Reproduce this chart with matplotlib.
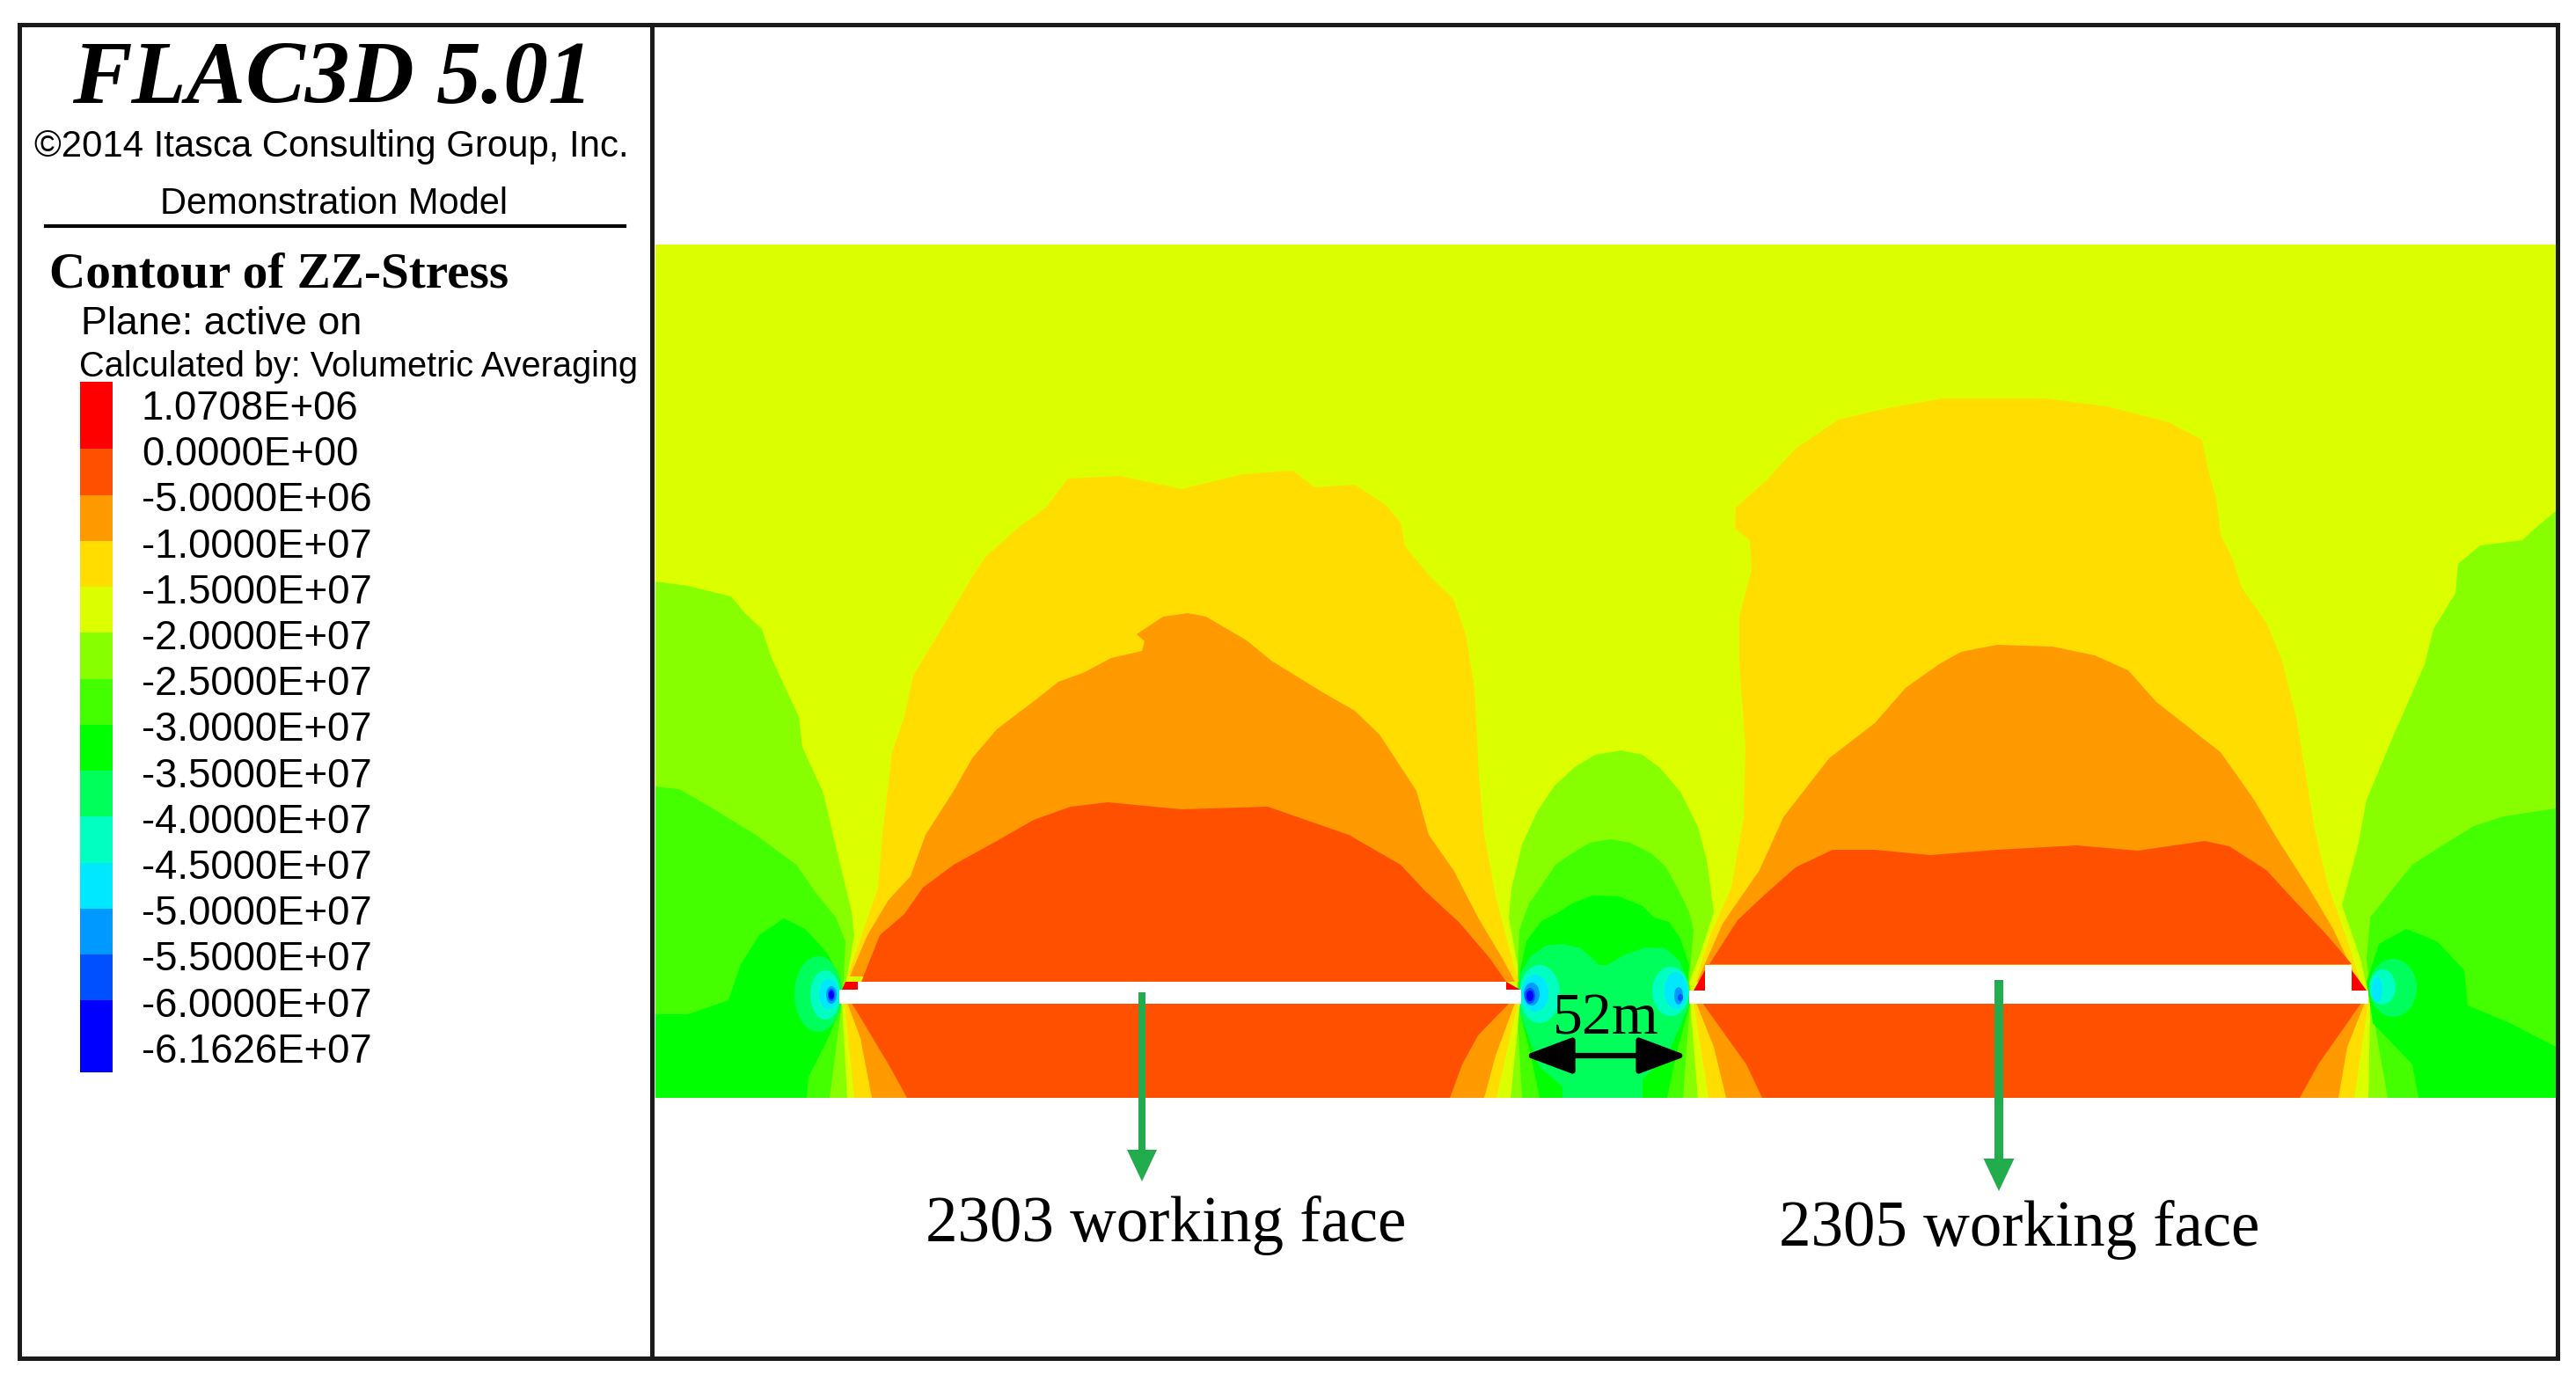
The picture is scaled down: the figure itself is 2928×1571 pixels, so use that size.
import matplotlib
matplotlib.use("Agg")
import matplotlib.pyplot as plt
from matplotlib.patches import Ellipse, Rectangle

# everything is in image pixels (x right, y down)
legend_labels = ["1.0708E+06", "0.0000E+00", "-5.0000E+06", "-1.0000E+07", "-1.5000E+07",
                 "-2.0000E+07", "-2.5000E+07", "-3.0000E+07", "-3.5000E+07", "-4.0000E+07",
                 "-4.5000E+07", "-5.0000E+07", "-5.5000E+07", "-6.0000E+07", "-6.1626E+07"]
legend_colors = ["#ff0000", "#ff5000", "#ff9900", "#ffdd00", "#dcff00", "#88ff00", "#44ff00",
                 "#00ff00", "#00ff5a", "#00ffc0", "#00e8ff", "#0099ff", "#0050ff", "#0000ff"]
legend_edges = [434, 510, 563, 615, 667, 719, 772, 824, 876, 928, 981, 1033, 1085, 1137, 1219]

RED, RED_ORANGE, ORANGE, YELLOW, LIME, GREEN1, GREEN2, GREEN3, GREEN4, TEAL, CYAN, BLUE1, BLUE2, BLUE3 = legend_colors

left_g1 = [(745, 661), (782, 666), (831, 678), (845, 695), (866, 715), (877, 748), (908, 815), (912, 849),
           (936, 902), (950, 962), (968, 1036), (971, 1063), (963, 1110), (957, 1130), (961, 1157), (963, 1248), (745, 1248)]
left_g2 = [(745, 894), (772, 897), (810, 919), (859, 949), (905, 983), (926, 1013), (950, 1043), (961, 1070),
           (959, 1110), (956, 1147), (943, 1248), (745, 1248)]
left_g3 = [(745, 1153), (782, 1153), (828, 1137), (842, 1096), (863, 1063), (891, 1044), (915, 1056), (940, 1083),
           (954, 1110), (954, 1150), (940, 1183), (919, 1224), (917, 1248), (745, 1248)]

pillar_g1 = [(1728, 1113), (1715, 1043), (1718, 1010), (1730, 960), (1747, 923), (1767, 893), (1790, 872), (1813, 858),
             (1843, 853), (1867, 858), (1887, 873), (1910, 900), (1930, 940), (1940, 977), (1948, 1037), (1933, 1083),
             (1920, 1117), (1925, 1140), (1930, 1248), (1717, 1248), (1728, 1140)]
pillar_g2 = [(1725, 1113), (1727, 1057), (1738, 1027), (1752, 1007), (1768, 983), (1787, 970), (1807, 958), (1830, 954),
             (1853, 958), (1877, 970), (1893, 985), (1907, 1010), (1920, 1037), (1925, 1057), (1920, 1113), (1921, 1140),
             (1913, 1248), (1730, 1248), (1724, 1140)]
pillar_g3 = [(1728, 1103), (1735, 1070), (1752, 1047), (1770, 1038), (1787, 1027), (1810, 1018), (1840, 1019), (1867, 1030),
             (1880, 1043), (1897, 1048), (1910, 1067), (1920, 1097), (1918, 1117), (1921, 1140), (1905, 1200), (1895, 1248),
             (1750, 1248), (1740, 1200), (1725, 1140)]
pillar_g4 = [(1728, 1107), (1740, 1087), (1757, 1075), (1777, 1073), (1797, 1078), (1818, 1097), (1827, 1097), (1847, 1085),
             (1870, 1077), (1893, 1078), (1910, 1093), (1918, 1117), (1920, 1143), (1895, 1200), (1867, 1227), (1867, 1248),
             (1776, 1248), (1776, 1235), (1750, 1213), (1727, 1150)]

right_g1 = [(2905, 581), (2881, 601), (2867, 614), (2819, 620), (2794, 641), (2791, 674), (2766, 715), (2756, 755),
            (2721, 835), (2690, 909), (2680, 962), (2662, 1029), (2683, 1090), (2694, 1140), (2692, 1248), (2905, 1248)]
right_g2 = [(2905, 919), (2846, 928), (2812, 939), (2784, 956), (2742, 983), (2721, 1009), (2694, 1043), (2690, 1090),
            (2695, 1140), (2714, 1248), (2905, 1248)]
right_g3 = [(2905, 1190), (2853, 1163), (2805, 1143), (2801, 1103), (2770, 1070), (2735, 1056), (2704, 1073), (2690, 1116),
            (2697, 1163), (2742, 1210), (2749, 1248), (2905, 1248)]

dome1_yellow = [(963, 1110), (982, 1056), (998, 1009), (1003, 949), (1014, 855), (1028, 815), (1038, 768), (1070, 715),
                (1108, 651), (1122, 631), (1161, 597), (1189, 577), (1214, 544), (1273, 541), (1343, 556), (1413, 539),
                (1470, 535), (1494, 554), (1540, 551), (1575, 574), (1592, 594), (1597, 621), (1624, 654), (1652, 681),
                (1666, 721), (1676, 782), (1681, 882), (1687, 949), (1701, 1023), (1716, 1080), (1726, 1116)]
dome1_orange = [(966, 1110), (986, 1063), (1010, 1023), (1035, 996), (1052, 949), (1084, 899), (1105, 862), (1133, 829),
                (1178, 795), (1203, 775), (1231, 765), (1263, 748), (1298, 740), (1301, 729), (1292, 721), (1322, 701),
                (1350, 697), (1371, 701), (1417, 728), (1445, 751), (1505, 788), (1540, 808), (1568, 835), (1610, 899),
                (1624, 949), (1652, 989), (1680, 1043), (1708, 1090), (1722, 1116)]
dome1_red = [(979, 1116), (1000, 1063), (1028, 1039), (1049, 1009), (1084, 983), (1133, 956), (1175, 932), (1217, 917),
             (1259, 912), (1343, 920), (1441, 917), (1484, 932), (1533, 949), (1592, 983), (1620, 1013), (1659, 1049),
             (1694, 1090), (1712, 1116)]
fan1_lime = [(957, 1140), (963, 1248), (1716, 1248), (1728, 1140)]
fan1_yellow = [(960, 1140), (971, 1248), (1701, 1248), (1725, 1140)]
fan1_orange = [(963, 1140), (978, 1180), (991, 1248), (1687, 1248), (1700, 1200), (1722, 1140)]
fan1_red = [(968, 1140), (1010, 1210), (1031, 1248), (1648, 1248), (1662, 1210), (1680, 1177), (1716, 1140)]

dome2_yellow = [(1927, 1116), (1944, 1063), (1968, 1009), (1982, 929), (1984, 849), (1977, 755), (1977, 701), (1984, 674),
                (1991, 648), (1989, 614), (1972, 601), (1973, 577), (2007, 547), (2041, 510), (2090, 477), (2145, 464),
                (2208, 453), (2326, 453), (2395, 462), (2465, 480), (2503, 500), (2510, 534), (2519, 567), (2524, 608),
                (2537, 634), (2548, 668), (2576, 708), (2593, 748), (2610, 815), (2621, 882), (2631, 942), (2645, 1003),
                (2666, 1063), (2683, 1116)]
dome2_orange = [(1929, 1116), (1958, 1050), (2000, 989), (2027, 929), (2079, 862), (2131, 822), (2166, 782), (2204, 755),
                (2229, 741), (2270, 733), (2333, 735), (2381, 745), (2419, 762), (2451, 798), (2524, 855), (2562, 909),
                (2590, 956), (2624, 1009), (2652, 1056), (2680, 1116)]
dome2_red = [(1943, 1096), (1975, 1046), (2007, 1016), (2041, 986), (2083, 966), (2131, 966), (2194, 972), (2270, 966),
             (2360, 961), (2430, 967), (2506, 956), (2534, 962), (2576, 989), (2610, 1026), (2645, 1063), (2673, 1096)]
fan2_lime = [(1921, 1140), (1930, 1248), (2692, 1248), (2694, 1140)]
fan2_yellow = [(1925, 1140), (1942, 1248), (2676, 1248), (2692, 1140)]
fan2_orange = [(1928, 1140), (1948, 1190), (1962, 1248), (2658, 1248), (2668, 1190), (2688, 1140)]
fan2_red = [(1935, 1140), (1985, 1210), (2003, 1248), (2614, 1248), (2635, 1210), (2684, 1140)]

corner_red = [[(961, 1116), (975, 1116), (975, 1125), (957, 1125)],
              [(1712, 1116), (1712, 1125), (1728, 1125)],
              [(1938, 1103), (1938, 1126), (1925, 1126)],
              [(2673, 1103), (2673, 1126), (2690, 1126)]]

# stress concentrations at the pillar ribs: centre x, centre y, half width, half height, colour
hotspots = [(930, 1130, 27, 43, GREEN4), (938, 1131, 17, 28, TEAL), (942, 1130, 11, 17, CYAN),
            (945, 1131, 6, 10, BLUE1), (945, 1131, 4, 7, BLUE2), (945, 1131, 3, 5, BLUE3),
            (1750, 1130, 23, 33, TEAL), (1745, 1129, 15, 21, CYAN), (1741, 1130, 9, 13, BLUE1),
            (1739, 1132, 6, 9, BLUE2), (1739, 1132, 4, 6, BLUE3),
            (1899, 1127, 21, 28, TEAL), (1905, 1126, 13, 21, CYAN), (1908, 1132, 5, 10, BLUE1), (1910, 1134, 3, 4, BLUE2),
            (2720, 1123, 27, 33, GREEN4), (2708, 1122, 15, 20, TEAL), (2702, 1125, 6, 14, CYAN)]

# mined-out gaps
tunnels = [(954, 1125, 775, 16), (975, 1116, 737, 10), (1920, 1126, 772, 15), (1938, 1097, 735, 30)]

layers_back = [(left_g1, GREEN1), (left_g2, GREEN2), (left_g3, GREEN3),
               (pillar_g1, GREEN1), (pillar_g2, GREEN2), (pillar_g3, GREEN3), (pillar_g4, GREEN4),
               (right_g1, GREEN1), (right_g2, GREEN2), (right_g3, GREEN3)]
layers_front = [(fan1_lime, LIME), (fan2_lime, LIME), (dome1_yellow, YELLOW), (fan1_yellow, YELLOW),
                (dome2_yellow, YELLOW), (fan2_yellow, YELLOW), (dome1_orange, ORANGE), (fan1_orange, ORANGE),
                (dome2_orange, ORANGE), (fan2_orange, ORANGE), (dome1_red, RED_ORANGE), (fan1_red, RED_ORANGE),
                (dome2_red, RED_ORANGE), (fan2_red, RED_ORANGE)]

SERIF = "Liberation Serif"
SANS = "Liberation Sans"

fig = plt.figure(figsize=(29.28, 15.71), dpi=100)
ax = fig.add_axes([0, 0, 1, 1])
ax.set_xlim(0, 2928)
ax.set_ylim(1571, 0)
ax.axis("off")

# contour field
ax.add_patch(Rectangle((745, 278), 2160, 970, fc=LIME, ec="none", zorder=1))
for pts, c in layers_back:
    ax.fill(*zip(*pts), color=c, lw=0, zorder=2)
for cx, cy, rx, ry, c in hotspots:
    ax.add_patch(Ellipse((cx, cy), 2 * rx, 2 * ry, fc=c, ec="none", zorder=3))
for pts, c in layers_front:
    ax.fill(*zip(*pts), color=c, lw=0, zorder=4)
for pts in corner_red:
    ax.fill(*zip(*pts), color=RED, lw=0, zorder=5)
for x, y, w, h in tunnels:
    ax.add_patch(Rectangle((x, y), w, h, fc="white", ec="none", zorder=6))

# frame
ax.add_patch(Rectangle((22, 28), 2885, 1516, fc="none", ec="#1a1a1a", lw=3.6, zorder=7))
ax.plot([741, 741], [28, 1544], color="#1a1a1a", lw=3.6, zorder=7)
ax.plot([52, 710], [257, 257], color="black", lw=3, zorder=7)

# legend panel
ax.text(378, 117, "FLAC3D 5.01", family=SERIF, weight="bold", style="italic", fontsize=73, ha="center", va="baseline")
ax.text(39, 178, "\u00a92014 Itasca Consulting Group, Inc.", family=SANS, fontsize=30.2, va="baseline")
ax.text(380, 243, "Demonstration Model", family=SANS, fontsize=30, ha="center", va="baseline")
ax.text(56, 326, "Contour of ZZ-Stress", family=SERIF, weight="bold", fontsize=41.2, va="baseline")
ax.text(92, 380, "Plane: active on", family=SANS, fontsize=32.3, va="baseline")
ax.text(90, 428, "Calculated by: Volumetric Averaging", family=SANS, fontsize=28.6, va="baseline")

for i, c in enumerate(legend_colors):
    ax.bar(109, legend_edges[i + 1] - legend_edges[i], width=37, bottom=legend_edges[i], color=c, lw=0, zorder=2)
for i, lab in enumerate(legend_labels):
    ax.text(161, 465 + 52.2 * i, lab, family=SANS, fontsize=32.8, va="center")

# annotations
ax.arrow(1298, 1128, 0, 215, width=8, head_width=34, head_length=36, length_includes_head=True, color="#22ac4e", lw=0, zorder=8)
ax.arrow(2272, 1114, 0, 240, width=10, head_width=35, head_length=37, length_includes_head=True, color="#22ac4e", lw=0, zorder=8)
ax.annotate("", xy=(1732, 1200), xytext=(1918, 1200), zorder=8,
            arrowprops=dict(arrowstyle="<|-|>,head_length=0.8,head_width=0.3", color="black", lw=4.5,
                            mutation_scale=42, shrinkA=0, shrinkB=0))
ax.text(1825, 1175, "52m", family=SERIF, fontsize=49, ha="center", va="baseline", zorder=9)
ax.text(1325, 1411, "2303 working face", family=SERIF, fontsize=52.5, ha="center", va="baseline")
ax.text(2295, 1416, "2305 working face", family=SERIF, fontsize=52.5, ha="center", va="baseline")

fig.savefig("out.png", dpi=100, facecolor="white")
